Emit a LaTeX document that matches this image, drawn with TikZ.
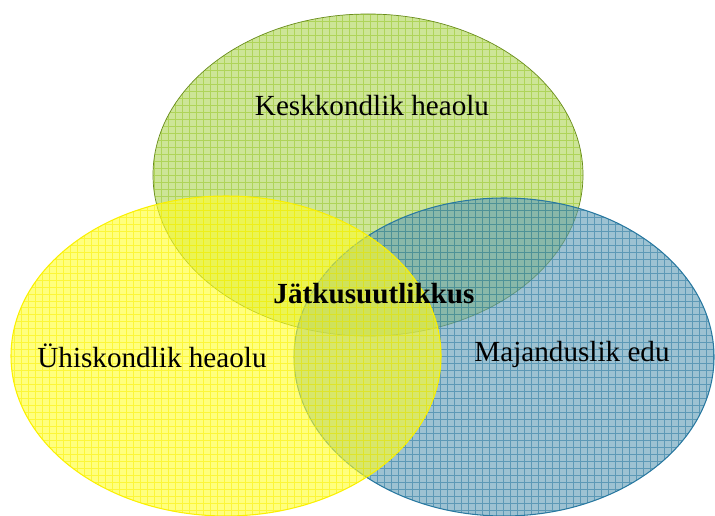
\documentclass[tikz,border=0pt]{standalone}
\usepackage{fontspec}
\setmainfont{Liberation Serif}

\definecolor{keskfill}{RGB}{172,212,82}
\definecolor{keskline}{RGB}{150,200,40}
\definecolor{yhisfill}{RGB}{255,255,40}
\definecolor{yhisline}{RGB}{250,240,0}
\definecolor{majfill}{RGB}{92,154,180}
\definecolor{majline}{RGB}{40,120,160}

\tikzset{
  label/.style={font=\fontsize{16.6}{20}\selectfont, inner sep=0pt},
  mesh/.style={line width=0.5pt, step=0.14cm, draw opacity=0.55}
}

\begin{document}
\begin{tikzpicture}[x=0.02cm,y=-0.02cm]

\useasboundingbox (0,0) rectangle (715,516);

% Keskkond
\begin{scope}
\clip (368,175) ellipse [x radius=215, y radius=161];
\fill[keskfill, fill opacity=0.6] (0,0) rectangle (715,516);
\draw[mesh, keskline] (0,0) grid (715,516);
\end{scope}
\draw[keskline!70!black, line width=0.4pt] (368,175) ellipse [x radius=215, y radius=161];

% Majandus
\begin{scope}
\clip (504,357) ellipse [x radius=210, y radius=159];
\fill[majfill, fill opacity=0.6] (0,0) rectangle (715,516);
\draw[mesh, majline] (0,0) grid (715,516);
\end{scope}
\draw[majline, line width=0.6pt] (504,357) ellipse [x radius=210, y radius=159];

% Yhiskond
\begin{scope}
\clip (226,356) ellipse [x radius=215, y radius=160];
\fill[yhisfill, fill opacity=0.6] (0,0) rectangle (715,516);
\draw[mesh, yhisline] (0,0) grid (715,516);
\end{scope}
\draw[yhisline, line width=0.6pt] (226,356) ellipse [x radius=215, y radius=160];

\node[label] (kesk) at (372,106) {Keskkondlik heaolu};
\node[label] (yhis) at (152,356) {Ühiskondlik heaolu};
\node[label] (maj) at (572,354) {Majanduslik edu};
\node[label, font=\fontsize{16.6}{20}\selectfont\bfseries] (jatk) at (374,294) {Jätkusuutlikkus};

\end{tikzpicture}
\end{document}
